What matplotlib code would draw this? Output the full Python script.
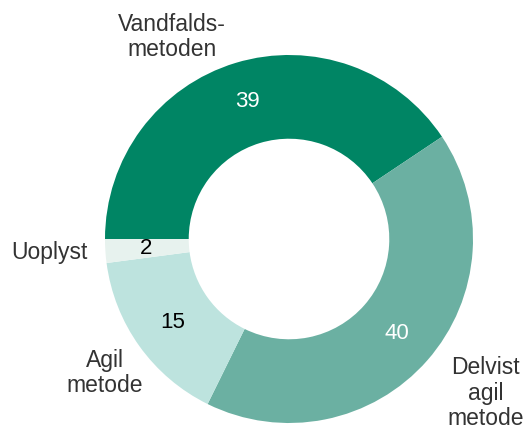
import matplotlib.pyplot as plt

categories = ['Vandfalds-\nmetoden', 'Delvist\nagil\nmetode', 'Agil\nmetode', 'Uoplyst']
values = [39, 40, 15, 2]
colors = ['#008564', '#6bb0a2', '#bde3de', '#e7f2ee']
value_colors = ['white', 'white', 'black', 'black']

plt.rcParams['font.family'] = ['Liberation Sans', 'DejaVu Sans']

fig = plt.figure(figsize=(5.31, 4.26), dpi=100)
# centre at (289, 239) px, outer radius 184 px
cx, cy, R = 289, 239, 184
ax = fig.add_axes([(cx - R) / 531, (426 - cy - R) / 426, 2 * R / 531, 2 * R / 426])

wedges, texts, autotexts = ax.pie(
    values, colors=colors, startangle=180, counterclock=False,
    wedgeprops=dict(width=0.455, linewidth=0),
    autopct=lambda p: '{:.0f}'.format(p * sum(values) / 100),
    pctdistance=0.78, textprops=dict(fontsize=16))
for t, c in zip(autotexts, value_colors):
    t.set_color(c)

ax.set_xlim(-1, 1)
ax.set_ylim(-1, 1)
ax.set_aspect('equal')
ax.axis('off')

label_color = '#333333'
fs = 16.5
ax.text(-0.636, 1.098, categories[0], ha='center', va='center', fontsize=fs,
        color=label_color, linespacing=1.15)
ax.text(1.07, -0.837, categories[1], ha='center', va='center', fontsize=fs,
        color=label_color, linespacing=1.15, clip_on=False)
ax.text(-1.0, -0.728, categories[2], ha='center', va='center', fontsize=fs,
        color=label_color, linespacing=1.15)
ax.text(-1.51, -0.071, categories[3], ha='left', va='center', fontsize=fs,
        color=label_color)

fig.savefig('out.png', dpi=100)
